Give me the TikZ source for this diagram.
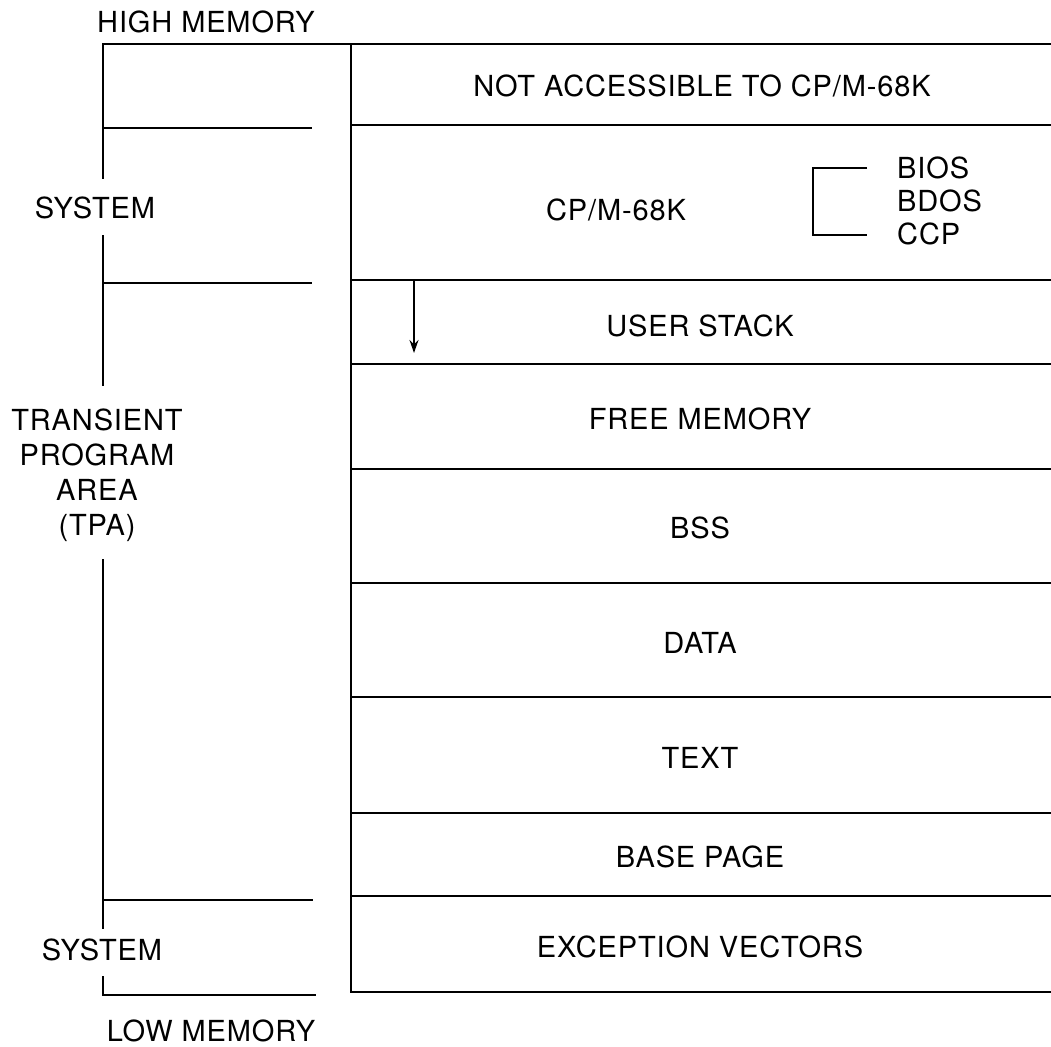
\documentclass[tikz,border=0pt]{standalone}
\usepackage{fontspec}
\setmainfont[LetterSpace=3]{TeX Gyre Heros}
\usetikzlibrary{arrows.meta}
\begin{document}
\begin{tikzpicture}[x=1pt,y=-1pt,
  lbl/.style={font=\fontsize{29}{35}\selectfont, inner sep=0pt, align=center},
  rule/.style={line width=2.2pt, line cap=rect},
  thin/.style={line width=1.6pt}]
\useasboundingbox (0,0) rectangle (1051,1046);
% column
\coordinate (ctop) at (351,44);
\coordinate (cbot) at (351,992);
\draw[rule] (103,44) -- (1051,44);
\draw[rule] (ctop) -- (cbot);
\foreach \yy in {125,280,364,469,583,697,813,896,992}
  \draw[rule] (351,\yy) -- (1051,\yy);
% left bracket
\draw[rule] (103,44) -- (103,178);
\draw[rule] (103,236) -- (103,385);
\draw[rule] (103,560) -- (103,928);
\draw[rule] (103,977) -- (103,995);
\draw[rule] (103,128) -- (311,128);
\draw[rule] (103,283) -- (311,283);
\draw[rule] (103,900) -- (312,900);
\draw[rule] (103,995) -- (315,995);
% left labels
\node[lbl] (high) at (206,22) {HIGH MEMORY};
\node[lbl] (sys1) at (95,208) {SYSTEM};
\node[lbl] (tpa) at (97,475) {TRANSIENT\\PROGRAM\\AREA\\(TPA)};
\node[lbl] (sys2) at (102,950) {SYSTEM};
\node[font=\fontsize{29}{35}\selectfont, inner sep=0pt] (low) at (211,1031) {LOW MEMORY};
% column labels
\node[lbl] (na) at (702,86) {NOT ACCESSIBLE TO CP/M-68K};
\node[lbl] (cpm) at (616,210) {CP/M-68K};
\node[lbl, anchor=west] (bios) at (897,168) {BIOS};
\node[lbl, anchor=west] (bdos) at (897,201) {BDOS};
\node[lbl, anchor=west] (ccp) at (897,234) {CCP};
\coordinate (b1) at (867,168);
\coordinate (b2) at (867,235);
\draw[thin] (b1) -- (813,168) -- (813,235) -- (b2);
\node[lbl] (us) at (700,326) {USER STACK};
\node[lbl] (fm) at (700,419) {FREE MEMORY};
\node[lbl] (bss) at (700,528) {BSS};
\node[lbl] (data) at (700,643) {DATA};
\node[lbl] (text) at (700,758) {TEXT};
\node[lbl] (bp) at (700,857) {BASE PAGE};
\node[lbl] (ev) at (700,947) {EXCEPTION VECTORS};
% stack arrow
\coordinate (a1) at (414,280);
\coordinate (a2) at (414,353);
\draw[line width=1.8pt, -{Stealth[length=13pt,width=9pt]}] (a1) -- (a2);
\end{tikzpicture}
\end{document}
